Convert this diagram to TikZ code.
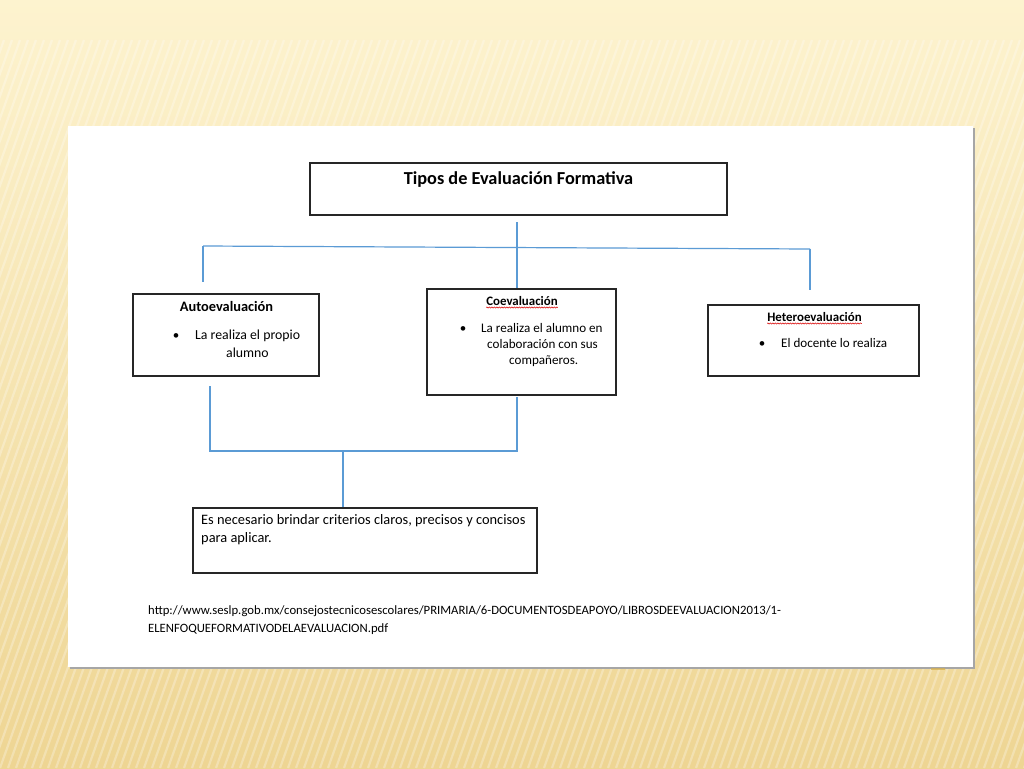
\documentclass[tikz,border=0pt]{standalone}
\usepackage{fontspec}
\setmainfont{Carlito}
\usetikzlibrary{decorations.pathmorphing}
\definecolor{bgtop}{HTML}{FDF3CF}
\definecolor{bgbot}{HTML}{EED593}
\definecolor{conn}{HTML}{5B9BD5}
\definecolor{boxline}{HTML}{262626}
\definecolor{tanmark}{HTML}{D8B04A}
\begin{document}
\begin{tikzpicture}[x=1pt,y=-1pt,
  box/.style={draw=boxline,line width=1.1pt,inner sep=0pt,fill=white},
  link/.style={draw=conn,line width=1.2pt},
  txt/.style={inner sep=0pt,anchor=base west,font=\fontsize{13.8}{16}\selectfont},
  small/.style={font=\fontsize{13.1}{16}\selectfont},
  head/.style={inner sep=0pt,anchor=base,font=\bfseries\fontsize{14.4}{17}\selectfont},
  shead/.style={font=\bfseries\fontsize{12.9}{15}\selectfont},
  bul/.style={inner sep=0pt,anchor=base,font=\fontsize{13}{15}\selectfont},
  spell/.style={draw=red!85!black,line width=0.5pt,decorate,decoration={snake,amplitude=0.6pt,segment length=2.5pt}}]
\useasboundingbox (0,0) rectangle (1024,768);
% background
\shade[top color=bgtop,bottom color=bgbot] (0,0) rectangle (1024,768);
\begin{scope}
\clip (0,40) rectangle (1024,768);
\foreach \i in {-80,...,160}{
  \draw[white,opacity=0.28,line width=2.2pt] (\i*8,768) -- (\i*8+260,40);
}
\end{scope}
% page
\fill[gray!70] (70,128) rectangle (975,669);
\fill[white] (68,126) rectangle (973,667);
\fill[tanmark,opacity=0.7] (931,668) rectangle (945,670);
% boxes
\node[box,minimum width=417pt,minimum height=52pt] (top) at (518.5,189) {};
\node[box,minimum width=186pt,minimum height=82pt] (aut) at (226,335) {};
\node[box,minimum width=189pt,minimum height=106pt] (coe) at (521.5,342) {};
\node[box,minimum width=211pt,minimum height=71pt] (het) at (813.5,340.5) {};
\node[box,minimum width=344pt,minimum height=65pt] (nec) at (365,540.5) {};
% texts
\node[head,font=\bfseries\fontsize{18.3}{21}\selectfont] (ttl) at (518.5,184.5) {Tipos de Evaluación Formativa};
\node[head] (auth) at (226.5,311.5) {Autoevaluación};
\node[bul] (autb) at (176,339.5) {•};
\node[txt] (autl1) at (195,339.5) {La realiza el propio};
\node[txt] (autl2) at (226,357.5) {alumno};
\node[head,shead] (coeh) at (522,305) {Coevaluación};
\draw[spell] (coeh.base west) ++(0,2.5) -- (coeh.base east |- {0,307.5});
\node[bul] (coeb) at (463,332) {•};
\node[txt,small] (coel1) at (481,332) {La realiza el alumno en};
\node[txt,small] (coel2) at (487,348) {colaboración con sus};
\node[txt,small] (coel3) at (509,364) {compañeros.};
\node[head,shead] (heth) at (814.5,321) {Heteroevaluación};
\draw[spell] (heth.base west) ++(0,2.5) -- (heth.base east |- {0,323.5});
\node[bul] (hetb) at (762,347) {•};
\node[txt,small] (hetl) at (781,347) {El docente lo realiza};
\node[txt,font=\fontsize{14.4}{17}\selectfont] (necl1) at (201,524.5) {Es necesario brindar criterios claros, precisos y concisos};
\node[txt,font=\fontsize{14.4}{17}\selectfont] (necl2) at (201,542.5) {para aplicar.};
\node[txt,font=\fontsize{12.7}{15}\selectfont] (url1) at (148,614) {http://www.seslp.gob.mx/consejostecnicosescolares/PRIMARIA/6-DOCUMENTOSDEAPOYO/LIBROSDEEVALUACION2013/1-};
\node[txt,font=\fontsize{12.7}{15}\selectfont] (url2) at (148,632) {ELENFOQUEFORMATIVODELAEVALUACION.pdf};
% connectors
\coordinate (t1) at (517,222);
\coordinate (hl) at (203,246);
\coordinate (hr) at (810,249);
\coordinate (al) at (203,282);
\coordinate (ar) at (810,290);
\draw[link] (t1) -- (coe.north -| t1);
\draw[link] (hl) -- (hr);
\draw[link] (hl) -- (al);
\draw[link] (hr) -- (ar);
\coordinate (b1) at (210,386);
\coordinate (b2) at (210,451);
\coordinate (b3) at (517,451);
\coordinate (b4) at (517,397);
\coordinate (b5) at (343,451);
\draw[link] (b1) -- (b2) -- (b3) -- (b4);
\draw[link] (b5) -- (nec.north -| b5);
\end{tikzpicture}
\end{document}
